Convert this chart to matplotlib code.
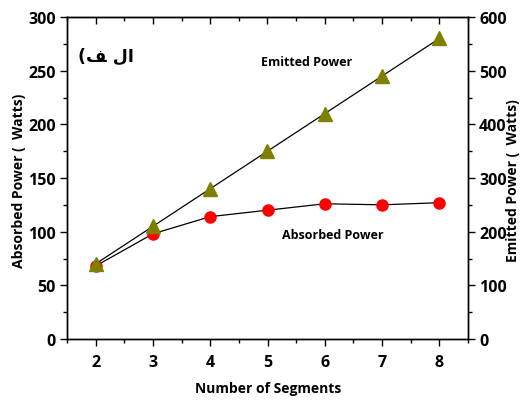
import matplotlib
matplotlib.use("Agg")
import matplotlib.pyplot as plt
from matplotlib.ticker import MultipleLocator

segments = [2, 3, 4, 5, 6, 7, 8]
absorbed = [68, 98, 114, 120, 126, 125, 127]
emitted = [140, 210, 280, 350, 420, 490, 560]

plt.rcParams['font.family'] = ['Open Sans', 'DejaVu Sans']
plt.rcParams['font.weight'] = 'bold'

fig = plt.figure(figsize=(5.23, 4.02), dpi=100)
ax = fig.add_axes([67/523, 1-340/402, (468-67)/523, (340-18)/402])
ax2 = ax.twinx()

ax.plot(segments, absorbed, color='black', lw=0.9, marker='o', ms=8,
        mfc='#ff0000', mec='#ff0000', zorder=3)
ax2.plot(segments, emitted, color='black', lw=0.9, marker='^', ms=9.5,
         mfc='#808000', mec='#808000', zorder=3)

ax.set_xlim(1.5, 8.5)
ax.set_ylim(0, 300)
ax2.set_ylim(0, 600)
ax.set_xticks(segments)
ax.xaxis.set_minor_locator(MultipleLocator(0.5))
ax.yaxis.set_major_locator(MultipleLocator(50))
ax.yaxis.set_minor_locator(MultipleLocator(25))
ax2.yaxis.set_major_locator(MultipleLocator(100))
ax2.yaxis.set_minor_locator(MultipleLocator(50))

ax.tick_params(axis='x', which='both', direction='out', top=False, labelsize=11.5, pad=6)
ax.tick_params(axis='x', which='major', length=5, width=1)
ax.tick_params(axis='x', which='minor', length=3, width=1)
ax.tick_params(axis='y', which='both', direction='out', right=False, labelsize=11.5, pad=3)
ax.tick_params(axis='y', which='major', length=5, width=1)
ax.tick_params(axis='y', which='minor', length=3, width=1)
ax2.tick_params(axis='y', which='both', direction='out', labelsize=11.5, pad=3)
ax2.tick_params(axis='y', which='major', length=5, width=1)
ax2.tick_params(axis='y', which='minor', length=3, width=1)

# top ticks inward via secondary axis
sec = ax.secondary_xaxis('top')
sec.set_xticks(segments)
sec.xaxis.set_minor_locator(MultipleLocator(0.5))
sec.tick_params(which='both', direction='in', labeltop=False)
sec.tick_params(which='major', length=5, width=1)
sec.tick_params(which='minor', length=3, width=1)

for a in (ax, ax2):
    for s in a.spines.values():
        s.set_linewidth(1.0)

for lbl in ax.get_xticklabels() + ax.get_yticklabels() + ax2.get_yticklabels():
    lbl.set_fontweight('bold')

fig.text(268/523, 1-389/402, 'Number of Segments', ha='center', va='center',
         fontsize=10, fontweight='bold')
fig.text(19/523, 1-181/402, 'Absorbed Power (  Watts)', ha='center', va='center',
         rotation=90, fontsize=10, fontweight='bold')
fig.text(513/523, 1-181/402, 'Emitted Power (  Watts)', ha='center', va='center',
         rotation=90, fontsize=10, fontweight='bold')

fig.text(307/523, 1-62/402, 'Emitted Power', ha='center', va='center',
         fontsize=9, fontweight='bold')
fig.text(333/523, 1-236/402, 'Absorbed Power', ha='center', va='center',
         fontsize=9, fontweight='bold')
fig.text(106/523, 1-57/402, '(\ufed2 \ufedd\ufe8d', ha='center', va='center',
         fontsize=12.5, fontweight='bold', family='DejaVu Sans')

fig.savefig('out.png', dpi=100)
